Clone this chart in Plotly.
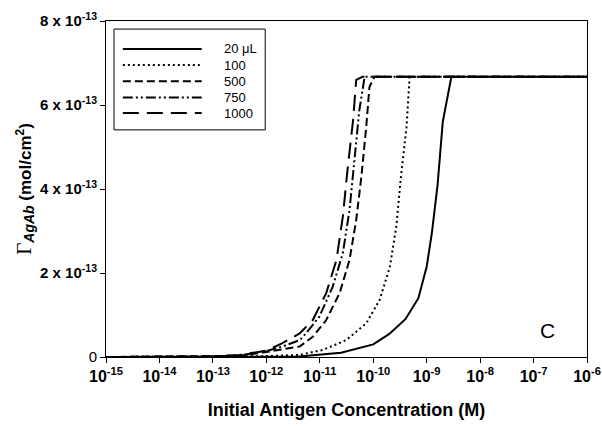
import plotly.graph_objects as go

# ---------------- data (concentration in M, surface coverage in mol/cm^2) ----------------
series_names = ["20 μL", "100", "500", "750", "1000"]

conc_20 = [1e-15, 1e-13, 1e-12, 4e-12, 2.5e-11, 1e-10, 2e-10, 4e-10, 7e-10, 1e-9,
           1.25e-9, 1.6e-9, 2e-9, 2.9e-9, 1e-6]
gamma_20 = [0, 0.002e-13, 0.005e-13, 0.01e-13, 0.1e-13, 0.3e-13, 0.55e-13, 0.9e-13, 1.4e-13,
            2.15e-13, 2.95e-13, 4.1e-13, 5.6e-13, 6.67e-13, 6.67e-13]

conc_100 = [1e-15, 1e-13, 1e-12, 4.2e-12, 1.15e-11, 3.1e-11, 7.4e-11, 1.32e-10, 2.05e-10,
            2.7e-10, 3.3e-10, 4.2e-10, 4.8e-10, 1e-6]
gamma_100 = [0, 0.003e-13, 0.02e-13, 0.05e-13, 0.17e-13, 0.4e-13, 0.8e-13, 1.36e-13, 2.15e-13,
             3.1e-13, 4.29e-13, 5.48e-13, 6.67e-13, 6.67e-13]

conc_500 = [1e-15, 1e-13, 3.2e-13, 1e-12, 2e-12, 4.2e-12, 7.4e-12, 1.32e-11, 2.35e-11, 3.6e-11,
            4.8e-11, 6e-11, 7.4e-11, 8.5e-11, 1.05e-10, 1e-6]
gamma_500 = [0, 0.01e-13, 0.03e-13, 0.12e-13, 0.18e-13, 0.25e-13, 0.48e-13, 0.88e-13, 1.52e-13,
             2.31e-13, 3.26e-13, 4.29e-13, 5.48e-13, 6.43e-13, 6.67e-13, 6.67e-13]

conc_750 = [1e-15, 1e-13, 3.2e-13, 1e-12, 2e-12, 4.2e-12, 5.5e-12, 9.8e-12, 1.74e-11, 2.7e-11,
            3.6e-11, 4.5e-11, 5.5e-11, 6.9e-11, 1e-6]
gamma_750 = [0, 0.01e-13, 0.04e-13, 0.14e-13, 0.25e-13, 0.4e-13, 0.56e-13, 0.96e-13, 1.67e-13,
             2.47e-13, 3.5e-13, 4.69e-13, 5.88e-13, 6.67e-13, 6.67e-13]

conc_1000 = [1e-15, 1e-13, 3.2e-13, 1e-12, 2e-12, 4.2e-12, 7.4e-12, 1.32e-11, 2.05e-11, 2.7e-11,
             3.3e-11, 4.2e-11, 4.8e-11, 6.3e-11, 1e-6]
gamma_1000 = [0, 0.01e-13, 0.05e-13, 0.15e-13, 0.33e-13, 0.56e-13, 0.88e-13, 1.52e-13, 2.31e-13,
              3.34e-13, 4.45e-13, 5.64e-13, 6.6e-13, 6.67e-13, 6.67e-13]

x_tickvals = [1e-15, 1e-14, 1e-13, 1e-12, 1e-11, 1e-10, 1e-9, 1e-8, 1e-7, 1e-6]
x_ticktext = ["<b>10<sup>-15</sup></b>", "<b>10<sup>-14</sup></b>", "<b>10<sup>-13</sup></b>",
              "<b>10<sup>-12</sup></b>", "<b>10<sup>-11</sup></b>", "<b>10<sup>-10</sup></b>",
              "<b>10<sup>-9</sup></b>", "<b>10<sup>-8</sup></b>", "<b>10<sup>-7</sup></b>",
              "<b>10<sup>-6</sup></b>"]
y_tickvals = [0, 2e-13, 4e-13, 6e-13, 8e-13]
y_ticktext = ["0", "<b>2 x 10<sup>-13</sup></b>", "<b>4 x 10<sup>-13</sup></b>",
              "<b>6 x 10<sup>-13</sup></b>", "<b>8 x 10<sup>-13</sup></b>"]

# ---------------- styling ----------------
all_x = [conc_20, conc_100, conc_500, conc_750, conc_1000]
all_y = [gamma_20, gamma_100, gamma_500, gamma_750, gamma_1000]
dashes = ["solid", "2px,3px", "8px,4px", "10px,3px,2px,3px,2px,3px", "16px,8px"]
FONT = "Liberation Sans, Arial, sans-serif"

fig = go.Figure()
for xs, ys, d, n in zip(all_x, all_y, dashes, series_names):
    fig.add_trace(go.Scatter(x=xs, y=ys, mode="lines", name=n, showlegend=False,
                             line=dict(color="black", width=2, dash=d)))

# custom legend box (long line samples as in the original)
leg_x0, leg_x1 = 0.0166, 0.331
leg_y0, leg_y1 = 0.676, 0.976
rows = [0.917, 0.869, 0.821, 0.772, 0.726]
shapes = [dict(type="rect", xref="paper", yref="paper", x0=leg_x0, x1=leg_x1, y0=leg_y0, y1=leg_y1,
               line=dict(color="black", width=1), fillcolor="white", layer="above")]
annotations = []
for r, d, n in zip(rows, dashes, series_names):
    shapes.append(dict(type="line", xref="paper", yref="paper", x0=0.035, x1=0.199, y0=r, y1=r,
                       line=dict(color="black", width=2, dash=d), layer="above"))
    annotations.append(dict(xref="paper", yref="paper", x=0.241, y=r, text=n, showarrow=False,
                            xanchor="left", yanchor="middle",
                            font=dict(family=FONT, size=13, color="black")))

annotations.append(dict(xref="paper", yref="paper", x=0.917, y=0.08, text="C", showarrow=False,
                        xanchor="center", yanchor="middle",
                        font=dict(family=FONT, size=21, color="black")))

fig.update_layout(
    width=602, height=426,
    margin=dict(l=106, r=15, t=21, b=69),
    plot_bgcolor="white", paper_bgcolor="white",
    shapes=shapes, annotations=annotations,
    font=dict(family=FONT, color="black"),
    xaxis=dict(type="log", range=[-15, -6], tickvals=x_tickvals, ticktext=x_ticktext,
               automargin=False, ticklabeloverflow="allow",
               ticks="outside", ticklen=5, tickcolor="black", showline=True, linecolor="black",
               linewidth=1, mirror=True, showgrid=False, zeroline=False,
               tickfont=dict(family=FONT, size=16, color="black"),
               title=dict(text="<b>Initial Antigen Concentration (M)</b>",
                          font=dict(family=FONT, size=18, color="black"), standoff=19)),
    yaxis=dict(range=[0, 8e-13], tickvals=y_tickvals, ticktext=y_ticktext,
               automargin=False,
               ticks="outside", ticklen=5, tickcolor="black", showline=True, linecolor="black",
               linewidth=1, mirror=True, showgrid=False, zeroline=False,
               tickfont=dict(family=FONT, size=15, color="black"),
               title=dict(text='<span style="font-family:Liberation Serif;font-size:21px;color:black">Γ</span>'
                               '<sub><span style="font-size:14px"><b><i>AgAb</i></b></span></sub>'
                               '<b> (mol/cm<sup>2</sup>)</b>',
                          font=dict(family=FONT, size=17, color="black"), standoff=4)),
)

# remove the default page margin so the 602x426 figure fills the window exactly
fig.write_html("out.html",
               config={"displayModeBar": False},
               post_script="document.body.style.margin='0';document.body.style.overflow='hidden';")
